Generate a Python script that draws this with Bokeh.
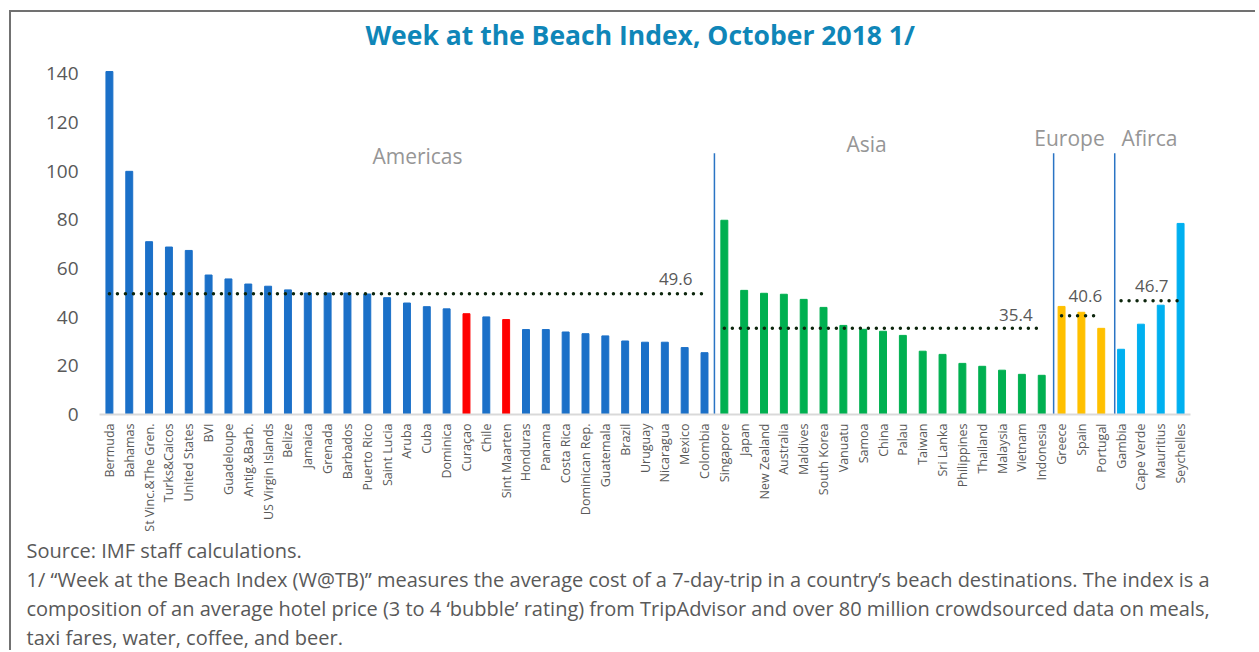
import math
from bokeh.plotting import figure
from bokeh.models import ColumnDataSource, FactorRange, FixedTicker, Title
from bokeh.embed import file_html
from bokeh.resources import INLINE
from bokeh.core.properties import value

# ---------------- data ----------------
americas = ["Bermuda", "Bahamas", "St Vinc.&The Gren.", "Turks&Caicos", "United States", "BVI",
            "Guadeloupe", "Antig.&Barb.", "US Virgin Islands", "Belize", "Jamaica", "Grenada",
            "Barbados", "Puerto Rico", "Saint Lucia", "Aruba", "Cuba", "Dominica", "Curaçao",
            "Chile", "Sint Maarten", "Honduras", "Panama", "Costa Rica", "Dominican Rep.",
            "Guatemala", "Brazil", "Uruguay", "Nicaragua", "Mexico", "Colombia"]
americas_vals = [140.9, 99.9, 71.0, 68.8, 67.4, 57.3, 55.7, 53.6, 52.7, 51.2, 49.9, 49.9,
                 49.9, 49.5, 48.0, 45.8, 44.3, 43.4, 41.4, 40.1, 39.0, 34.9, 34.9, 33.9, 33.2,
                 32.3, 30.2, 29.7, 29.7, 27.5, 25.4]
asia = ["Singapore", "Japan", "New Zealand", "Australia", "Maldives", "South Korea", "Vanuatu",
        "Samoa", "China", "Palau", "Taiwan", "Sri Lanka", "Philippines", "Thailand", "Malaysia",
        "Vietnam", "Indonesia"]
asia_vals = [79.8, 51.0, 49.8, 49.4, 47.3, 44.0, 36.6, 35.0, 34.2, 32.5, 26.0, 24.7, 21.0,
             19.8, 18.2, 16.5, 16.1]
europe = ["Greece", "Spain", "Portugal"]
europe_vals = [44.4, 42.0, 35.4]
africa = ["Gambia", "Cape Verde", "Mauritius", "Seychelles"]
africa_vals = [26.8, 37.1, 44.9, 78.5]

regions = ["Americas", "Asia", "Europe", "Afirca"]
region_avgs = [49.6, 35.4, 40.6, 46.7]
highlighted = ["Curaçao", "Sint Maarten"]
y_ticks = [0, 20, 40, 60, 80, 100, 120, 140]

title_text = "Week at the Beach Index, October 2018 1/"
notes = [
    "Source: IMF staff calculations.",
    "1/ \u201cWeek at the Beach Index (W@TB)\u201d measures the average cost of a 7-day-trip in a country\u2019s beach destinations. The index is a",
    "composition of an average hotel price (3 to 4 \u2018bubble\u2019 rating) from TripAdvisor and over 80 million crowdsourced data on meals,",
    "taxi fares, water, coffee, and beer.",
]

# ---------------- styles ----------------
FONT = "Open Sans"
TXT = "#595959"
group_colors = ["#1b70c8", "#00b050", "#ffc000", "#00b0f0"]
red = "#ff0000"

groups = [americas, asia, europe, africa]
group_vals = [americas_vals, asia_vals, europe_vals, africa_vals]

countries = [c for g in groups for c in g]
vals = [v for g in group_vals for v in g]
colors = []
for g, col in zip(groups, group_colors):
    for c in g:
        colors.append(red if c in highlighted else col)

p = figure(x_range=FactorRange(factors=countries, range_padding=0), y_range=(0, 147.9),
           width=1246, height=640, output_backend="svg", toolbar_location=None,
           min_border_left=88, min_border_right=67, min_border_top=42, min_border_bottom=238)
p.styles = {"border-top": "2px solid #717171", "border-left": "2px solid #717171",
            "margin-left": "9px", "margin-top": "10px"}
p.outline_line_color = None
p.background_fill_color = "white"
p.border_fill_color = "white"
p.xgrid.visible = False
p.ygrid.visible = False

# title
p.title.text = title_text
p.title.align = "left"
p.title.offset = 266
p.title.standoff = 4
p.title.text_font = FONT
p.title.text_font_style = "bold"
p.title.text_font_size = "26.5px"
p.title.text_color = "#0f86b8"

src = ColumnDataSource(dict(x=countries, top=vals, color=colors))
p.vbar(x="x", top="top", width=0.35, color="color", source=src)

# separators between regions (synthetic categorical coordinates)
sep_x = [len(americas), len(americas) + len(asia) + 0.1,
         len(americas) + len(asia) + len(europe) + 0.18]
p.segment(x0=sep_x, x1=sep_x, y0=[0] * 3, y1=[107.3] * 3, line_color="#2a74c4", line_width=1.5)

# region averages (dotted)
first = [g[0] for g in groups]
last = [g[-1] for g in groups]
avg_src = ColumnDataSource(dict(x0=first, x1=last, y=region_avgs,
                                lab=[f"{a:.1f}" for a in region_avgs],
                                xo=[-12, -9, 1, -12], yo=[-15, -13, -20, -15]))
p.segment(x0="x0", x1="x1", y0="y", y1="y", source=avg_src, line_color="#0d260d",
          line_width=3.5, line_dash="0 8", line_cap="round")
p.text(x="x1", y="y", text="lab", source=avg_src, x_offset="xo", y_offset="yo",
       text_align="right", text_baseline="middle", text_font=value(FONT),
       text_font_size="17px", text_color=TXT)

# region names
reg_x = [16.03, 38.67, 48.9, 52.93]
reg_y = [106.3, 111.0, 113.4, 113.4]
p.text(x=reg_x, y=reg_y, text=regions, text_align="center", text_baseline="middle",
       text_font=value(FONT), text_font_size="21px", text_color="#969696")

# axes
p.yaxis.ticker = FixedTicker(ticks=y_ticks)
p.yaxis.axis_line_color = None
p.yaxis.major_tick_line_color = None
p.yaxis.minor_tick_line_color = None
p.yaxis.major_label_standoff = 15
p.yaxis.major_label_text_font = FONT
p.yaxis.major_label_text_font_size = "19px"
p.yaxis.major_label_text_color = TXT

p.xaxis.axis_line_color = "#d9d9d9"
p.xaxis.axis_line_width = 2
p.xaxis.major_tick_line_color = None
p.xaxis.major_label_orientation = math.pi / 2
p.xaxis.major_label_standoff = 3
p.xaxis.major_label_text_font = FONT
p.xaxis.major_label_text_font_size = "12.5px"
p.xaxis.major_label_text_color = TXT

# footnotes
for i, t in enumerate(notes):
    p.add_layout(Title(text=t, align="left", offset=-73, standoff=0,
                       text_font=FONT, text_font_size="20px", text_font_style="normal",
                       text_color=TXT), "below")

open("out.html", "w").write(file_html(p, INLINE))
